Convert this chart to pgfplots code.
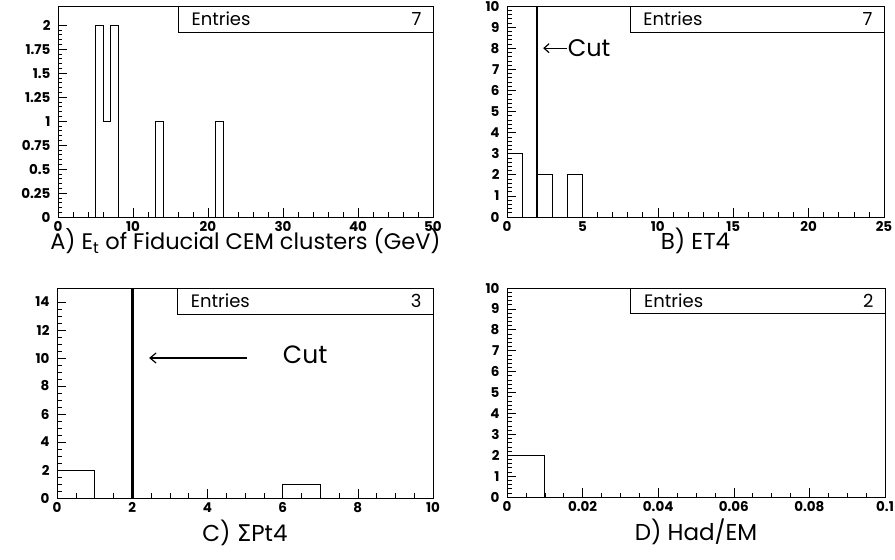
\documentclass[border=0pt]{standalone}
\usepackage{fontspec}
\setmainfont{Poppins}
\newfontfamily\greekfont{DejaVu Sans}
\usepackage{pgfplots}
\pgfplotsset{compat=1.18}
\usetikzlibrary{arrows.meta}
\pgfplotsset{
  hist/.style={black, line width=0.7pt, const plot, mark=none},
  hbook/.style={
  scale only axis, anchor=south west, clip=false,
  axis line style={line width=0.6pt},
  tick align=inside, xtick pos=lower, ytick pos=left,
  major tick length=9pt, minor tick length=4.5pt,
  tick style={black, line width=0.6pt},
  /pgf/number format/assume math mode=true,
  xticklabel={\pgfmathprintnumber{\tick}},
  yticklabel={\pgfmathprintnumber{\tick}},
  xticklabel style={font=\fontsize{13.5}{13.5}\selectfont\bfseries, yshift=-1pt},
  yticklabel style={font=\fontsize{13.5}{13.5}\selectfont\bfseries, xshift=-4pt},
  scaled ticks=false,
  xlabel style={font=\fontsize{23}{26}\selectfont, at={(axis description cs:0.5,0)}, anchor=center},
}}
\newcommand{\entries}[2]{%
  \draw[line width=0.6pt] (rel axis cs:#1,1) |- (rel axis cs:1,0.877);
  \node[anchor=west, font=\fontsize{18}{18}\selectfont] at (rel axis cs:#1,0.938) {\hspace*{10pt}Entries};
  \node[anchor=east, font=\fontsize{18}{18}\selectfont] at (rel axis cs:1,0.938) {#2\hspace*{8pt}};
}
\begin{document}
\begin{tikzpicture}
\useasboundingbox (0,0) rectangle (895pt,560pt);
% Panel A
\begin{axis}[hbook, at={(58pt,343pt)}, width=375pt, height=211pt,
  xmin=0, xmax=50, ymin=0, ymax=2.2,
  xtick={0,10,20,30,40,50}, minor x tick num=4,
  ytick={0,0.25,0.5,0.75,1,1.25,1.5,1.75,2},
  yticklabels={0,0.25,0.5,0.75,1,1.25,1.5,1.75,2}, minor y tick num=4,
  xlabel={A) E\textsubscript{t} of Fiducial CEM clusters (GeV)},
  xlabel style={yshift=-24pt, font=\fontsize{22.5}{26}\selectfont}]
\addplot[hist] coordinates {(5,0) (5,2) (6,1) (7,2) (8,0) (13,0) (13,1) (14,0) (21,0) (21,1) (22,0) (50,0)};
\entries{0.32}{7}
\end{axis}
% Panel B
\begin{axis}[hbook, at={(507pt,343pt)}, width=377pt, height=211pt,
  xmin=0, xmax=25, ymin=0, ymax=10,
  xtick={0,5,10,15,20,25}, minor x tick num=4,
  ytick={0,1,...,10}, minor y tick num=4,
  xlabel={B) ET4}, xlabel style={yshift=-24pt}]
\addplot[hist] coordinates {(0,0) (0,3) (1,0) (2,2) (3,0) (4,2) (5,0) (25,0)};
\addplot[black, mark=none, line width=2.6pt] coordinates {(2,0) (2,10)};
\draw[line width=1.2pt, -{Straight Barb[length=5pt,width=9pt]}] (axis cs:3.95,8) -- (axis cs:2.4,8);
\node[anchor=west, font=\fontsize{24}{24}\selectfont, inner sep=1pt] at (axis cs:3.95,8) {Cut};
\entries{0.326}{7}
\end{axis}
% Panel C
\begin{axis}[hbook, at={(57pt,62pt)}, width=376pt, height=210pt,
  xmin=0, xmax=10, ymin=0, ymax=15,
  xtick={0,2,...,10}, minor x tick num=3,
  ytick={0,2,...,14}, minor y tick num=3,
  xlabel={C) {\greekfont Σ}Pt4}, xlabel style={yshift=-35pt}]
\addplot[hist] coordinates {(0,0) (0,2) (1,0) (6,0) (6,1) (7,0) (10,0)};
\addplot[black, mark=none, line width=2.6pt] coordinates {(2,0) (2,15)};
\draw[line width=1.2pt, -{Straight Barb[length=6pt,width=10pt]}] (axis cs:5.05,10) -- (axis cs:2.45,10);
\node[font=\fontsize{25}{25}\selectfont] at (axis cs:6.6,10.2) {Cut};
\entries{0.32}{3}
\end{axis}
% Panel D
\begin{axis}[hbook, at={(507pt,63pt)}, width=378pt, height=209pt,
  xmin=0, xmax=0.1, ymin=0, ymax=10,
  xtick={0,0.02,0.04,0.06,0.08,0.1},
  xticklabels={0,0.02,0.04,0.06,0.08,0.1}, minor x tick num=3,
  ytick={0,1,...,10}, minor y tick num=4,
  xlabel={D) Had/EM}, xlabel style={yshift=-35pt}]
\addplot[hist] coordinates {(0,0) (0,2) (0.01,0) (0.1,0)};
\entries{0.327}{2}
\end{axis}
\end{tikzpicture}
\end{document}
